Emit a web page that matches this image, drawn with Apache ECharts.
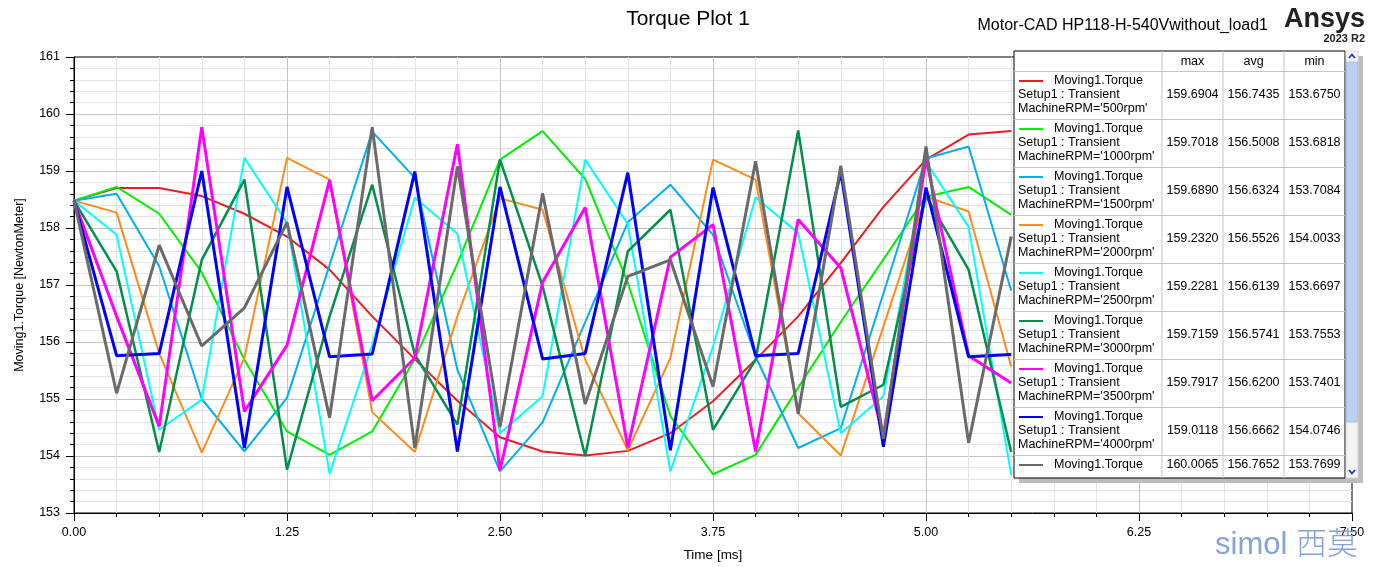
<!DOCTYPE html>
<html>
<head>
<meta charset="utf-8">
<script src="https://cdn.jsdelivr.net/npm/echarts@6/dist/echarts.min.js"></script>
<style>
html,body{margin:0;padding:0;background:#fff;}
#chart{width:1376px;height:567px;}
</style>
</head>
<body>
<div id="chart"></div>
<script>
// ---------- data ----------
const timeMs = [0,0.25,0.5,0.75,1.0,1.25,1.5,1.75,2.0,2.25,2.5,2.75,3.0,3.25,3.5,3.75,4.0,4.25,4.5,4.75,5.0,5.25,5.5];

const rpm500  = [158.48,158.70,158.70,158.56,158.25,157.85,157.27,156.45,155.70,154.97,154.33,154.08,154.01,154.09,154.40,154.96,155.69,156.45,157.39,158.37,159.20,159.64,159.70];
const rpm1000 = [158.48,158.72,158.25,157.22,155.69,154.43,154.02,154.43,155.70,157.38,159.20,159.70,158.86,157.04,154.70,153.68,154.02,155.20,156.35,157.45,158.55,158.72,158.23];
const rpm1500 = [158.48,158.60,157.33,155.00,154.08,155.02,157.35,159.69,158.88,155.51,153.73,154.59,156.35,158.10,158.76,157.88,155.75,154.14,154.49,156.85,159.22,159.43,156.90];
const rpm2000 = [158.48,158.27,155.80,154.06,155.72,159.23,158.85,154.77,154.07,156.45,158.52,158.32,155.69,154.10,155.72,159.20,158.85,154.75,154.01,156.27,158.55,158.29,155.57];
const rpm2500 = [158.48,157.88,154.46,154.99,159.23,158.09,153.69,155.95,158.53,157.90,154.40,155.05,159.20,158.07,153.73,155.92,158.54,157.91,154.40,155.05,159.16,158.02,153.67];
const rpm3000 = [158.48,157.24,154.07,157.44,158.85,153.76,156.45,158.76,155.78,154.55,159.20,156.98,154.00,157.59,158.32,154.46,155.69,159.71,154.86,155.25,158.56,157.27,154.07];
const rpm3500 = [158.48,156.45,154.52,159.77,154.78,155.94,158.84,154.97,155.72,159.47,153.75,157.05,158.36,154.15,157.49,158.06,154.08,158.15,157.30,154.34,159.22,155.76,155.28];
const rpm4000 = [158.48,155.76,155.80,159.00,154.14,158.72,155.74,155.79,158.99,154.08,158.72,155.70,155.80,158.97,154.10,158.71,155.76,155.80,158.98,154.16,158.71,155.74,155.78];
const rpm4500 = [158.48,155.10,157.70,155.93,156.60,158.10,154.67,159.77,154.14,159.08,154.51,158.61,154.91,157.15,157.44,155.22,159.17,154.74,159.09,154.30,159.43,154.23,157.85];

const seriesData  = [rpm500, rpm1000, rpm1500, rpm2000, rpm2500, rpm3000, rpm3500, rpm4000, rpm4500];
const seriesRpm   = ["'500rpm'","'1000rpm'","'1500rpm'","'2000rpm'","'2500rpm'","'3000rpm'","'3500rpm'","'4000rpm'","'4500rpm'"];
const seriesColor = ['#ED1C24','#00F000','#00B0F0','#FF8C1A','#00FFFF','#00904A','#FF00FF','#0000FF','#6A6A6A'];
const seriesWidth = [2,2,2,2,2,2.5,3,3,3];

const statMax = ['159.6904','159.7018','159.6890','159.2320','159.2281','159.7159','159.7917','159.0118','160.0065'];
const statAvg = ['156.7435','156.5008','156.6324','156.5526','156.6139','156.5741','156.6200','156.6662','156.7652'];
const statMin = ['153.6750','153.6818','153.7084','154.0033','153.6697','153.7553','153.7401','154.0746','153.7699'];
const statHeaders = ['max','avg','min'];

const xTicks = {min:0, max:7.5, interval:1.25};
const yTicks = {min:153, max:161, interval:1};

// ---------- chart ----------
const FONT = '"Liberation Sans", Arial, sans-serif';
const chart = echarts.init(document.getElementById('chart'), null, {renderer:'canvas'});

const series = seriesData.map((arr, i) => ({
  name: 'Moving1.Torque ' + seriesRpm[i],
  type: 'line',
  data: timeMs.map((t, k) => [t, arr[k]]),
  symbol: 'none',
  showSymbol: false,
  lineStyle: {color: seriesColor[i], width: seriesWidth[i]},
  itemStyle: {color: seriesColor[i]},
  animation: false,
  z: 2 + i
}));

// legend table drawn as graphic elements
const TBL = {x:1014, y:51, w:331, h:427, head:20, row:48, cols:[1162,1223,1284,1345]};
const LF = '12.5px ' + FONT;
const g = [];
// shadow
g.push({type:'rect', shape:{x:TBL.x+5, y:TBL.y+5, width:TBL.w+13, height:TBL.h}, style:{fill:'#BDBDBD'}, z:100});
// table background
g.push({type:'rect', shape:{x:TBL.x, y:TBL.y, width:TBL.w, height:TBL.h}, style:{fill:'#fff', stroke:'#000', lineWidth:1}, z:101});
// scrollbar
g.push({type:'rect', shape:{x:TBL.x+TBL.w+1, y:TBL.y, width:12, height:TBL.h}, style:{fill:'#F4F4F4', stroke:'#D8D8D8', lineWidth:1}, z:101});
g.push({type:'rect', shape:{x:TBL.x+TBL.w+1.5, y:TBL.y+11, width:11, height:360}, style:{fill:'#B9D1F0', stroke:'#A9C3E6', lineWidth:1}, z:102});
g.push({type:'polyline', shape:{points:[[TBL.x+TBL.w+4,TBL.y+7],[TBL.x+TBL.w+7,TBL.y+3.5],[TBL.x+TBL.w+10,TBL.y+7]]}, style:{stroke:'#1030C0', lineWidth:1.6, fill:null}, z:103});
g.push({type:'polyline', shape:{points:[[TBL.x+TBL.w+4,TBL.y+TBL.h-8],[TBL.x+TBL.w+7,TBL.y+TBL.h-4.5],[TBL.x+TBL.w+10,TBL.y+TBL.h-8]]}, style:{stroke:'#1030C0', lineWidth:1.6, fill:null}, z:103});
// grid lines in table
TBL.cols.slice(0,3).forEach(cx => g.push({type:'line', shape:{x1:cx, y1:TBL.y, x2:cx, y2:TBL.y+TBL.h}, style:{stroke:'#C4C4C4', lineWidth:1}, z:102}));
for (let r = 0; r < 9; r++) {
  const yy = TBL.y + TBL.head + r*TBL.row + 0.5;
  g.push({type:'line', shape:{x1:TBL.x, y1:yy, x2:TBL.x+TBL.w, y2:yy}, style:{stroke:'#C4C4C4', lineWidth:1}, z:102});
}
// header
statHeaders.forEach((h, c) => g.push({type:'text', x:(TBL.cols[c]+TBL.cols[c+1])/2, y:TBL.y+TBL.head/2+1,
  style:{text:h, font:LF, fill:'#000', align:'center', verticalAlign:'middle'}, z:103}));
// rows
seriesData.forEach((arr, i) => {
  const top = TBL.y + TBL.head + i*TBL.row;
  const last = (i === seriesData.length - 1);
  const l1 = top + 10;
  g.push({type:'line', shape:{x1:TBL.x+5, y1:l1, x2:TBL.x+29, y2:l1}, style:{stroke:seriesColor[i], lineWidth:2}, z:103});
  g.push({type:'text', x:TBL.x+40, y:l1, style:{text:'Moving1.Torque', font:LF, fill:'#000', verticalAlign:'middle'}, z:103});
  if (!last) {
    g.push({type:'text', x:TBL.x+4, y:top+24, style:{text:'Setup1 : Transient', font:LF, fill:'#000', verticalAlign:'middle'}, z:103});
    g.push({type:'text', x:TBL.x+4, y:top+38, style:{text:'MachineRPM=' + seriesRpm[i], font:LF, fill:'#000', verticalAlign:'middle'}, z:103});
  }
  const vy = last ? l1 : top + 24;
  [statMax[i], statAvg[i], statMin[i]].forEach((v, c) => g.push({type:'text', x:(TBL.cols[c]+TBL.cols[c+1])/2, y:vy,
    style:{text:v, font:LF, fill:'#000', align:'center', verticalAlign:'middle'}, z:103}));
});
// header texts top right
g.push({type:'text', right:108, top:18, style:{text:'Motor-CAD HP118-H-540Vwithout_load1', font:'16px '+FONT, fill:'#000'}, z:10});
g.push({type:'text', right:11, top:6, style:{text:'Ansys', font:'bold 27px '+FONT, fill:'#222'}, z:10});
g.push({type:'text', right:11, top:33, style:{text:'2023 R2', font:'bold 11px '+FONT, fill:'#222'}, z:10});
// watermark
g.push({type:'text', right:18, top:530, style:{text:'simol 西莫', font:'300 31px "Liberation Sans", "Noto Sans CJK SC", sans-serif', fill:'#6F93D6', opacity:0.85}, z:10});

const option = {
  backgroundColor: '#fff',
  animation: false,
  title: {text:'Torque Plot 1', left:'center', top:4, textStyle:{fontFamily:FONT, fontSize:21, fontWeight:'normal', color:'#000'}},
  grid: {left:74, right:24, top:57, bottom:54, show:true, borderColor:'#000', borderWidth:1, backgroundColor:'transparent'},
  xAxis: {
    type:'value', min:xTicks.min, max:xTicks.max, interval:xTicks.interval,
    name:'Time [ms]', nameLocation:'middle', nameGap:35,
    nameTextStyle:{fontFamily:FONT, fontSize:13.5, color:'#000'},
    axisLine:{lineStyle:{color:'#000', width:1}},
    axisTick:{show:true, inside:false, length:8, lineStyle:{color:'#000'}},
    minorTick:{show:true, splitNumber:5, length:4, lineStyle:{color:'#000'}},
    axisLabel:{formatter:v => v.toFixed(2), fontFamily:FONT, fontSize:12.5, color:'#000', margin:13},
    splitLine:{show:true, showMinLine:false, showMaxLine:false, lineStyle:{color:'#C3C3C3', width:1}},
    minorSplitLine:{show:true, lineStyle:{color:'#E4E4E4', width:1}}
  },
  yAxis: {
    type:'value', min:yTicks.min, max:yTicks.max, interval:yTicks.interval,
    name:'Moving1.Torque [NewtonMeter]', nameLocation:'middle', nameGap:48, nameRotate:90,
    nameTextStyle:{fontFamily:FONT, fontSize:12.5, color:'#000'},
    axisLine:{show:true, lineStyle:{color:'#000', width:1}},
    axisTick:{show:true, inside:false, length:8, lineStyle:{color:'#000'}},
    minorTick:{show:true, splitNumber:5, length:4, lineStyle:{color:'#000'}},
    axisLabel:{fontFamily:FONT, fontSize:12.5, color:'#000', margin:14},
    splitLine:{show:true, showMinLine:false, showMaxLine:false, lineStyle:{color:'#C3C3C3', width:1}},
    minorSplitLine:{show:true, lineStyle:{color:'#E4E4E4', width:1}}
  },
  graphic: g,
  series: series
};
chart.setOption(option);
</script>
</body>
</html>
